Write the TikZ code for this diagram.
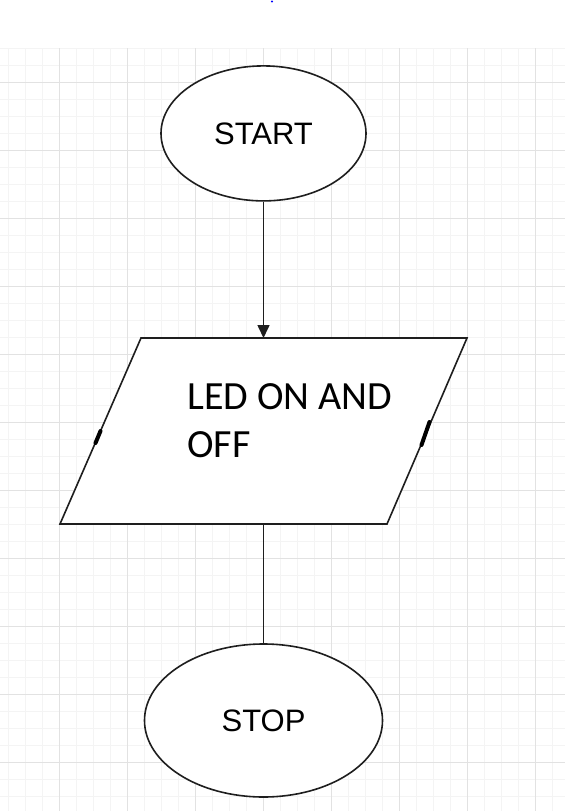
\documentclass[tikz,border=0pt]{standalone}
\usepackage{fontspec}
\setmainfont{Liberation Sans}
\newfontfamily\carlitofont{Carlito}
\usetikzlibrary{shapes.geometric,arrows.meta}
\definecolor{gridmajor}{HTML}{E2E2E2}
\definecolor{gridminor}{HTML}{F4F4F4}
\definecolor{ink}{HTML}{1E1E1E}
\tikzset{
  terminal/.style={draw=ink, line width=1.6pt, ellipse, inner sep=0pt, fill=white, font=\fontsize{31}{36}\selectfont},
  shapeline/.style={draw=ink, line width=1.6pt},
  flowline/.style={draw=ink, line width=1.6pt},
  ledtext/.style={anchor=base west, inner sep=0pt, font=\carlitofont\fontsize{40}{48}\selectfont},
  markline/.style={draw=black, line width=4pt, line cap=round}
}
\begin{document}
\begin{tikzpicture}[x=1pt,y=-1pt]
\useasboundingbox (0,0) rectangle (565,811);
\fill[white] (0,0) rectangle (565,811);
% grid
\begin{scope}
\clip (0,48) rectangle (565,811);
\foreach \i in {0,...,34} {
  \draw[gridminor, line width=0.9pt] ({-8.5+17*\i},48) -- ({-8.5+17*\i},811);
}
\foreach \i in {0,...,46} {
  \draw[gridminor, line width=0.9pt] (0,{48.3+17*\i}) -- (565,{48.3+17*\i});
}
\foreach \i in {0,...,8} {
  \draw[gridmajor, line width=1.1pt] ({59.5+68*\i},48) -- ({59.5+68*\i},811);
}
\foreach \i in {0,...,10} {
  \draw[gridmajor, line width=1.1pt] (0,{82.3+68*\i}) -- (565,{82.3+68*\i});
}
\end{scope}
% tiny blue dot at top
\fill[blue] (272,1.5) circle (1.2pt);
% start
\node[terminal, minimum width=205pt, minimum height=135pt] (start) at (263.5,133.4) {START};
% parallelogram
\coordinate (ptl) at (141,338);
\coordinate (ptr) at (467,338);
\coordinate (pbr) at (387,524);
\coordinate (pbl) at (60,524);
\coordinate (ptop) at (263.5,338);
\coordinate (pbot) at (263.5,524);
\filldraw[shapeline, fill=white, line join=miter] (ptl) -- (ptr) -- (pbr) -- (pbl) -- cycle;
\coordinate (mlA) at (95.5,443);
\coordinate (mlB) at (100.5,431);
\coordinate (mrA) at (421.5,445);
\coordinate (mrB) at (429.5,422);
\draw[markline] (mlA) -- (mlB);
\draw[markline] (mrA) -- (mrB);
\node[ledtext] (ledA) at (187,409) {LED ON AND};
\node[ledtext] (ledB) at (187,457.7) {OFF};
% stop
\node[terminal, minimum width=238pt, minimum height=153pt] (stop) at (263.5,720.5) {STOP};
% connectors
\draw[flowline, -{Triangle[width=12pt,length=13pt]}] (start.south) -- (ptop);
\draw[flowline] (pbot) -- (stop.north);
\end{tikzpicture}
\end{document}
